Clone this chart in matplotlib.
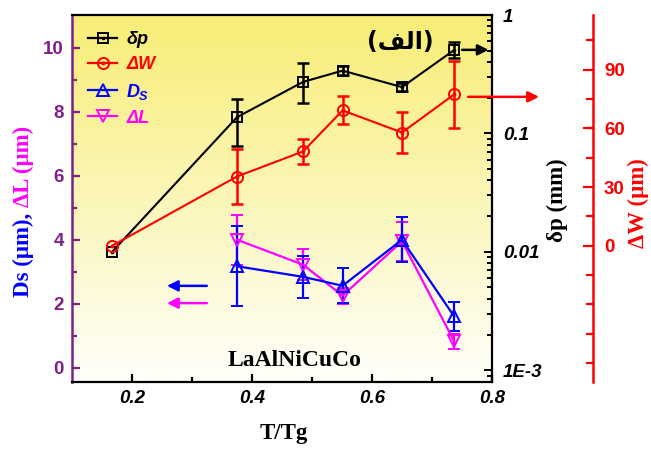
import numpy as np
import matplotlib
matplotlib.use("Agg")
import matplotlib.pyplot as plt
from matplotlib.lines import Line2D
from matplotlib.ticker import FixedLocator, NullFormatter, LogLocator, FixedFormatter

# ---------------- data ----------------
x_all = [0.167, 0.375, 0.485, 0.551, 0.650, 0.737]
dp = [0.0100, 0.137, 0.272, 0.339, 0.246, 0.506]          # delta p (mm)
dp_lo = [0.0, 0.059, 0.092, 0.03, 0.02, 0.073]
dp_hi = [0.0, 0.058, 0.121, 0.03, 0.02, 0.090]
dW = [0.0, 35.4, 48.2, 69.2, 57.9, 77.4]                   # delta W (um)
dW_err = [0.0, 14.3, 6.4, 7.2, 10.7, 17.2]
x_s = [0.375, 0.485, 0.551, 0.650, 0.737]
Ds = [3.17, 2.84, 2.56, 4.00, 1.60]                        # Ds (um)
Ds_err = [1.25, 0.65, 0.55, 0.70, 0.45]
dL = [4.00, 3.22, 2.25, 3.95, 0.82]                        # delta L (um)
dL_err = [0.78, 0.48, 0.25, 0.60, 0.23]
left_ticks = [0, 2, 4, 6, 8, 10]
x_ticks = [0.2, 0.4, 0.6, 0.8]
w_ticks = [0, 30, 60, 90]

PURPLE = "#7F1F8A"
RED = "#FF0000"
BLUE = "#0000FF"
MAG = "#FF00FF"

plt.rcParams['mathtext.fontset'] = 'custom'
plt.rcParams['mathtext.it'] = 'Liberation Sans:italic:bold'
plt.rcParams['mathtext.rm'] = 'Liberation Sans:bold'
plt.rcParams['mathtext.bf'] = 'Liberation Sans:bold'

W, H = 651, 450
fig = plt.figure(figsize=(W / 100, H / 100), dpi=100)
L, R, T, B = 72, 492, 15, 382
ax = fig.add_axes([L / W, 1 - B / H, (R - L) / W, (B - T) / H])
ax2 = ax.twinx()
ax3 = ax.twinx()

# background gradient
grad = np.linspace(0, 1, 256).reshape(-1, 1)
top = np.array([0.97, 0.93, 0.46])
bot = np.array([1.0, 1.0, 0.985])
img = (grad[..., None] * top[None, None, :] + (1 - grad[..., None]) * bot[None, None, :])
ax.imshow(img, extent=[0, 1, 0, 1], transform=ax.transAxes, aspect='auto',
          origin='lower', zorder=0, interpolation='bilinear')

for a in (ax2, ax3):
    a.patch.set_visible(False)

# ---------------- left axis ----------------
ax.set_xlim(0.1, 0.8)
ax.set_ylim(-0.45, 11.03)
ax.errorbar(x_s, Ds, yerr=Ds_err, color=BLUE, lw=1.6, marker='^', ms=9,
            mfc='none', mec=BLUE, mew=1.4, capsize=4, capthick=1.6, elinewidth=1.6, zorder=3)
ax.errorbar(x_s, dL, yerr=dL_err, color=MAG, lw=1.6, marker='v', ms=9,
            mfc='none', mec=MAG, mew=1.4, capsize=4, capthick=1.6, elinewidth=1.6, zorder=2.9)

# ---------------- delta p (log) ----------------
ax2.set_yscale('log')
ax2.set_ylim(10 ** -3.1, 1.0)
ax2.plot(x_all, dp, color='black', lw=1.5, marker='s', ms=7, mfc='none', mec='black', mew=1.4, zorder=3)
ax2.errorbar(x_all[1:], dp[1:], yerr=[dp_lo[1:], dp_hi[1:]], fmt='none', ecolor='black',
             capsize=4, capthick=1.8, elinewidth=1.8, zorder=3)
ax2.plot(x_all, dp, ls='none', marker='s', ms=1.6, color='black', zorder=4)

# ---------------- delta W ----------------
ax3.set_ylim(-69.7, 118.0)
ax3.spines['right'].set_position(('axes', (593 - L) / (R - L)))
ax3.plot(x_all, dW, color=RED, lw=1.5, marker='o', ms=8, mfc='none', mec=RED, mew=1.4, zorder=3)
ax3.errorbar(x_all[1:], dW[1:], yerr=dW_err[1:], fmt='none', ecolor=RED,
             capsize=4, capthick=1.8, elinewidth=1.8, zorder=3)
ax3.plot(x_all, dW, ls='none', marker='o', ms=1.8, color=RED, zorder=4)

# ---------------- spines & ticks ----------------
for s in ('top', 'bottom'):
    ax.spines[s].set_linewidth(1.6)
ax.spines['left'].set_color(PURPLE)
ax.spines['left'].set_linewidth(1.8)
ax.spines['right'].set_visible(False)
ax2.spines['right'].set_linewidth(1.6)
for s in ('left', 'top', 'bottom'):
    ax2.spines[s].set_visible(False)
    ax3.spines[s].set_visible(False)
ax3.spines['right'].set_color(RED)
ax3.spines['right'].set_linewidth(1.8)

tickfont_bi = dict(family='Liberation Sans', weight='bold', style='italic', size=13.5)
tickfont_b = dict(family='Liberation Sans', weight='bold', size=13.5)

ax.set_xticks(x_ticks)
ax.xaxis.set_minor_locator(FixedLocator([0.3, 0.5, 0.7]))
ax.tick_params(axis='x', which='both', direction='in', top=False, width=1.6, pad=6)
ax.tick_params(axis='x', which='major', length=6)
ax.tick_params(axis='x', which='minor', length=3.5)
ax.set_xticklabels([f"{v:.1f}" for v in x_ticks], fontdict=tickfont_bi)

ax.set_yticks(left_ticks)
ax.yaxis.set_minor_locator(FixedLocator([1, 3, 5, 7, 9]))
ax.tick_params(axis='y', which='both', direction='in', colors=PURPLE, width=1.6, pad=6)
ax.tick_params(axis='y', which='major', length=6)
ax.tick_params(axis='y', which='minor', length=3.5)
ax.set_yticklabels([str(v) for v in left_ticks], fontdict=tickfont_b, color=PURPLE)

ax2.yaxis.set_major_locator(FixedLocator([1e-3, 1e-2, 1e-1, 1]))
ax2.yaxis.set_minor_locator(LogLocator(base=10, subs=np.arange(2, 10), numticks=20))
ax2.yaxis.set_minor_formatter(NullFormatter())
ax2.yaxis.set_major_formatter(FixedFormatter(['1E-3', '0.01', '0.1', '1']))
ax2.tick_params(axis='y', which='both', direction='in', width=1.4, pad=8)
ax2.tick_params(axis='y', which='major', length=6)
ax2.tick_params(axis='y', which='minor', length=3.5)
for lab in ax2.get_yticklabels():
    lab.set(**tickfont_bi)

ax3.yaxis.set_major_locator(FixedLocator(w_ticks))
ax3.yaxis.set_major_formatter(FixedFormatter([str(v) for v in w_ticks]))
ax3.yaxis.set_minor_locator(FixedLocator([-60, -45, -30, -15, 15, 45, 75, 105]))
ax3.tick_params(axis='y', which='both', direction='in', colors=RED, width=1.6, pad=8)
ax3.tick_params(axis='y', which='major', length=7)
ax3.tick_params(axis='y', which='minor', length=5)
for lab in ax3.get_yticklabels():
    lab.set(**tickfont_b)

# ---------------- labels ----------------
serif = dict(family='Liberation Serif', weight='bold', size=16.5)
fig.text(284 / W, 1 - 434 / H, 'T/Tg', ha='center', va='center', **serif)
fig.text(557 / W, 1 - 200 / H, 'δp (mm)', ha='center', va='center', rotation=90, **serif)
fig.text(638 / W, 1 - 203 / H, 'ΔW (μm)', ha='center', va='center', rotation=90, color=RED, **serif)

t1 = fig.text(23 / W, 1 - 297 / H, 'Ds (μm), ', ha='center', va='bottom', rotation=90, color=BLUE, **serif)
fig.canvas.draw()
bb = t1.get_window_extent()
fig.text(23 / W, bb.y1 / H, 'ΔL (μm)', ha='center', va='bottom', rotation=90, color=MAG, **serif)

ax.text((295 - L) / (R - L), (B - 360) / (B - T), 'LaAlNiCuCo', transform=ax.transAxes,
        ha='center', va='center', family='Liberation Serif', weight='bold', size=17, zorder=5)
# Arabic "(الف)" pre-shaped in visual order
ax.text((400 - L) / (R - L), (B - 42) / (B - T), '(\ufed2\ufedf\ufe8d)', transform=ax.transAxes,
        ha='center', va='center', family='DejaVu Sans', weight='bold', size=17, zorder=5)

# ---------------- arrows ----------------
def arrow(x0, x1, y, c):
    ax3.annotate('', xy=(x1, y), xytext=(x0, y), xycoords='axes fraction', textcoords='axes fraction',
                 arrowprops=dict(arrowstyle='-|>', color=c, lw=1.8, mutation_scale=16,
                                 shrinkA=0, shrinkB=0), annotation_clip=False, zorder=6)

arrow(0.929, 0.992, 0.905, 'black')
arrow(0.943, 1.112, 0.777, RED)
arrow(0.321, 0.226, 0.262, BLUE)
arrow(0.321, 0.226, 0.215, MAG)

# ---------------- legend ----------------
def h(c, m, ms):
    return Line2D([], [], color=c, lw=1.6, marker=m, ms=ms, mfc='none', mec=c, mew=1.4)

handles = [(h('black', 's', 7), Line2D([], [], ls='none', marker='s', ms=1.6, color='black')),
           (h(RED, 'o', 8), Line2D([], [], ls='none', marker='o', ms=1.8, color=RED)),
           h(BLUE, '^', 9), h(MAG, 'v', 9)]
labels = ['δp', 'ΔW', r'$D_S$', 'ΔL']
leg = ax3.legend(handles, labels, loc='upper left', bbox_to_anchor=(0.0, 1.0), frameon=False,
                 prop=dict(family='Liberation Sans', weight='bold', style='italic', size=13),
                 handlelength=1.6, handletextpad=0.5, labelspacing=0.45, borderaxespad=0.5)
for txt, c in zip(leg.get_texts(), ['black', RED, BLUE, MAG]):
    txt.set_color(c)
leg.set_zorder(7)

fig.savefig('out.png', dpi=100)
